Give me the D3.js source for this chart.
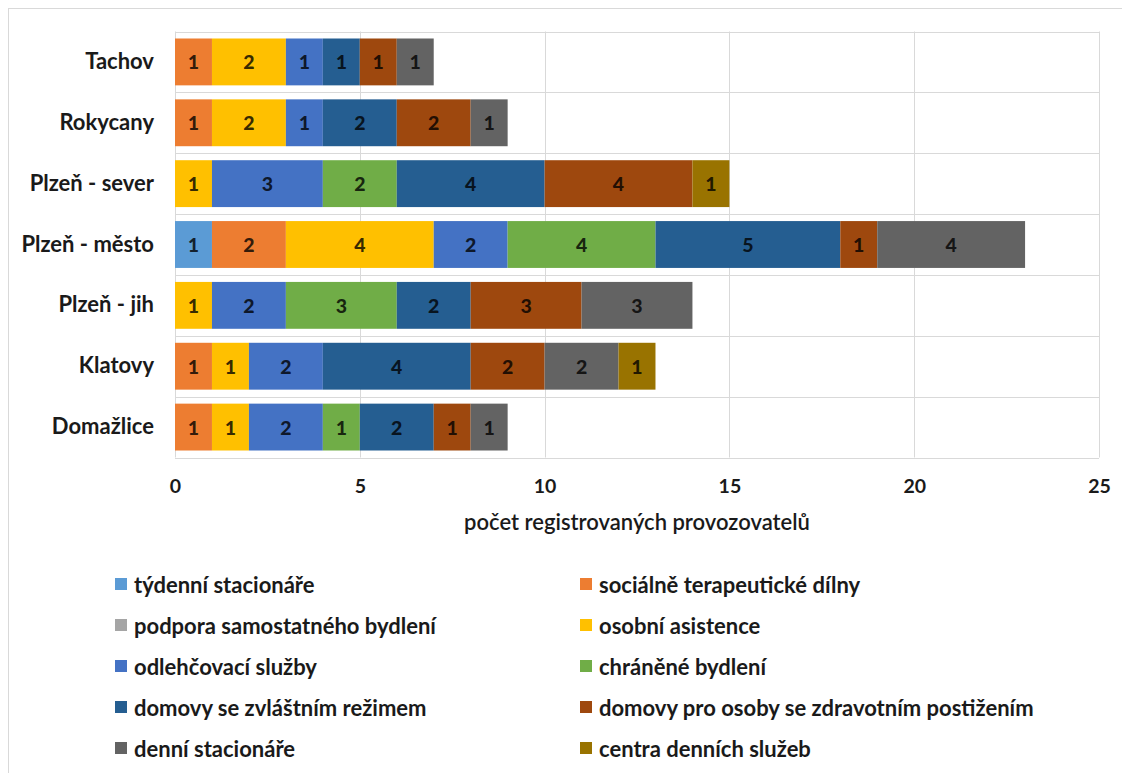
<!DOCTYPE html>
<html>
<head>
<meta charset="utf-8">
<script src="https://cdn.jsdelivr.net/npm/d3@7"></script>
<style>
  html, body { margin: 0; padding: 0; background: #fff; }
  svg { display: block; font-family: Lato, "Open Sans", "Liberation Sans", sans-serif; }
</style>
</head>
<body>
<svg id="chart" width="1122" height="773"></svg>
<script>
// Districts (top to bottom)
const categories = ["Tachov", "Rokycany", "Plzeň - sever", "Plzeň - město", "Plzeň - jih", "Klatovy", "Domažlice"];

// Number of registered providers per service type, in district order
const tydenniStacionare      = [0, 0, 0, 1, 0, 0, 0];
const socialneTerapDilny     = [1, 1, 0, 2, 0, 1, 1];
const podporaBydleni         = [0, 0, 0, 0, 0, 0, 0];
const osobniAsistence        = [2, 2, 1, 4, 1, 1, 1];
const odlehcovaciSluzby      = [1, 1, 3, 2, 2, 2, 2];
const chraneneBydleni        = [0, 0, 2, 4, 3, 0, 1];
const domovyZvlastniRezim    = [1, 2, 4, 5, 2, 4, 2];
const domovyPostizeni        = [1, 2, 4, 1, 3, 2, 1];
const denniStacionare        = [1, 1, 0, 4, 3, 2, 1];
const centraDennichSluzeb    = [0, 0, 1, 0, 0, 1, 0];

const seriesNames = [
  "týdenní stacionáře",
  "sociálně terapeutické dílny",
  "podpora samostatného bydlení",
  "osobní asistence",
  "odlehčovací služby",
  "chráněné bydlení",
  "domovy se zvláštním režimem",
  "domovy pro osoby se zdravotním postižením",
  "denní stacionáře",
  "centra denních služeb"
];
const seriesValues = [
  tydenniStacionare, socialneTerapDilny, podporaBydleni, osobniAsistence,
  odlehcovaciSluzby, chraneneBydleni, domovyZvlastniRezim, domovyPostizeni,
  denniStacionare, centraDennichSluzeb
];
const seriesColors = [
  "#5B9BD5", "#ED7D31", "#A5A5A5", "#FFC000", "#4472C4",
  "#70AD47", "#255E91", "#9E480E", "#636363", "#997300"
];

const xTicks = [0, 5, 10, 15, 20, 25];
const xTitle = "počet registrovaných provozovatelů";

// Build rows for d3.stack
const rows = categories.map((c, i) => {
  const r = { category: c };
  seriesNames.forEach((s, j) => { r[s] = seriesValues[j][i]; });
  return r;
});

const svg = d3.select("#chart");
const FONT = "Lato, 'Open Sans', sans-serif";

// Outer chart frame
svg.append("rect")
  .attr("x", 8.5).attr("y", 8.5)
  .attr("width", 1140).attr("height", 800)
  .attr("fill", "#fff").attr("stroke", "#d9d9d9").attr("stroke-width", 1);

const plot = { left: 175, right: 1099, top: 31.5, bottom: 457.5 };

const x = d3.scaleLinear().domain([0, 25]).range([plot.left, plot.right]);
const y = d3.scaleBand().domain(categories)
  .range([plot.top, plot.bottom])
  .paddingInner(0.23).paddingOuter(0.115);

const grid = svg.append("g").attr("stroke", "#d9d9d9").attr("stroke-width", 1);

// Vertical gridlines
grid.selectAll("line.v").data(xTicks).join("line")
  .attr("class", "v")
  .attr("x1", d => Math.round(x(d)) + 0.5).attr("x2", d => Math.round(x(d)) + 0.5)
  .attr("y1", plot.top).attr("y2", plot.bottom);

// Horizontal separators between categories
const step = y.step();
const bounds = d3.range(categories.length + 1).map(i => plot.top + i * step);
grid.selectAll("line.h").data(bounds).join("line")
  .attr("class", "h")
  .attr("x1", plot.left).attr("x2", plot.right)
  .attr("y1", d => Math.round(d) + 0.5).attr("y2", d => Math.round(d) + 0.5);

// Stacked bars
const stack = d3.stack().keys(seriesNames);
const stacked = stack(rows);

const layers = svg.append("g").selectAll("g.layer").data(stacked).join("g")
  .attr("class", "layer")
  .attr("fill", (d, i) => seriesColors[i]);

layers.selectAll("rect").data(d => d.filter(p => p[1] - p[0] > 0)).join("rect")
  .attr("x", d => x(d[0]))
  .attr("width", d => x(d[1]) - x(d[0]))
  .attr("y", d => y(d.data.category))
  .attr("height", y.bandwidth());

// Value labels inside segments
layers.selectAll("text").data(d => d.filter(p => p[1] - p[0] > 0)).join("text")
  .attr("x", d => (x(d[0]) + x(d[1])) / 2)
  .attr("y", d => y(d.data.category) + y.bandwidth() / 2)
  .attr("text-anchor", "middle")
  .attr("dominant-baseline", "central")
  .attr("font-size", 19.5)
  .attr("font-weight", 900)
  .attr("fill", "#000")
  .attr("fill-opacity", 0.78)
  .text(d => d[1] - d[0]);

// Category axis labels
const yAxis = d3.axisLeft(y).tickSize(0).tickPadding(0);
const yg = svg.append("g").attr("transform", `translate(${plot.left - 21},0)`).call(yAxis);
yg.select(".domain").remove();
yg.selectAll("text")
  .attr("font-size", 22).attr("font-weight", "bold").attr("fill", "#1a1a1a")
  .attr("font-family", FONT);

// Value axis labels
const xAxis = d3.axisBottom(x).tickValues(xTicks).tickSize(0).tickPadding(0);
const xg = svg.append("g").attr("transform", `translate(0,${plot.bottom + 22})`).call(xAxis);
xg.select(".domain").remove();
xg.selectAll("text")
  .attr("font-size", 19.5).attr("font-weight", "bold").attr("fill", "#1a1a1a")
  .attr("font-family", FONT);

// Axis title
svg.append("text")
  .attr("x", (plot.left + plot.right) / 2)
  .attr("y", 521)
  .attr("text-anchor", "middle")
  .attr("dominant-baseline", "central")
  .attr("font-size", 22)
  .attr("font-weight", 600)
  .attr("fill", "#1a1a1a")
  .text(xTitle);

// Legend, two columns
const legendCols = [115, 580];
const legendRow0 = 584, legendRowStep = 41;
const legend = svg.append("g").selectAll("g").data(seriesNames).join("g")
  .attr("transform", (d, i) => `translate(${legendCols[i % 2]},${legendRow0 + Math.floor(i / 2) * legendRowStep})`);
legend.append("rect")
  .attr("x", 0).attr("y", -6).attr("width", 12).attr("height", 12)
  .attr("fill", (d, i) => seriesColors[i]);
legend.append("text")
  .attr("x", 19).attr("y", 0)
  .attr("dominant-baseline", "central")
  .attr("font-size", 22).attr("font-weight", "bold").attr("fill", "#1a1a1a")
  .text(d => d);
</script>
</body>
</html>
